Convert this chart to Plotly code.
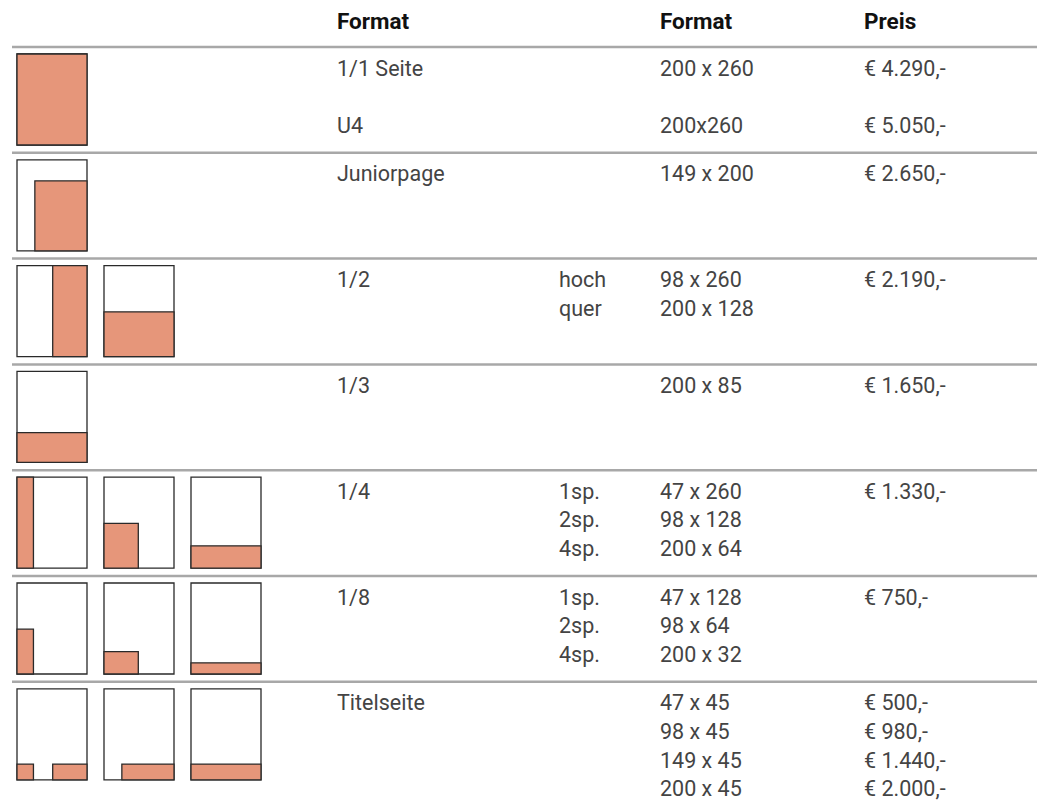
import plotly.graph_objects as go

# ---------------- data ----------------
headers = ["Format", "Format", "Preis"]

format_names = [["1/1 Seite", "", "U4"], ["Juniorpage"], ["1/2"], ["1/3"],
                ["1/4"], ["1/8"], ["Titelseite"]]
variants = [[], [], ["hoch", "quer"], [], ["1sp.", "2sp.", "4sp."],
            ["1sp.", "2sp.", "4sp."], []]
sizes = [["200 x 260", "", "200x260"], ["149 x 200"], ["98 x 260", "200 x 128"],
         ["200 x 85"], ["47 x 260", "98 x 128", "200 x 64"],
         ["47 x 128", "98 x 64", "200 x 32"],
         ["47 x 45", "98 x 45", "149 x 45", "200 x 45"]]
prices = [["€ 4.290,-", "", "€ 5.050,-"], ["€ 2.650,-"], ["€ 2.190,-"], ["€ 1.650,-"],
          ["€ 1.330,-"], ["€ 750,-"], ["€ 500,-", "€ 980,-", "€ 1.440,-", "€ 2.000,-"]]

# page size in mm
page_w, page_h = 200, 260
# thumbnails per row: list of pages, each a list of (width mm, height mm, anchor)
thumbs = [
    [[(200, 260, "bl")]],
    [[(149, 200, "br")]],
    [[(98, 260, "br")], [(200, 128, "bl")]],
    [[(200, 85, "bl")]],
    [[(47, 260, "bl")], [(98, 128, "bl")], [(200, 64, "bl")]],
    [[(47, 128, "bl")], [(98, 64, "bl")], [(200, 32, "bl")]],
    [[(47, 45, "bl"), (98, 45, "br")], [(149, 45, "br")], [(200, 45, "bl")]],
]

# ---------------- layout constants ----------------
W, H = 1037, 805
first_rule = 47
row_h = 105.8
thumb_w, thumb_h = 70, 91
thumb_x0, thumb_dx = 17, 87
thumb_top = 7
line_h = 28.7
text_off = 21
col_x = {"name": 335, "var": 557, "size": 658, "price": 862}
fill_col = "#E6967A"
edge_col = "#2a2a2a"
rule_col = "#a8a8a8"
txt_col = "#444444"
font_fam = "Roboto, 'Open Sans', sans-serif"

fig = go.Figure()
shapes = []
annotations = []

# header
for label, key in zip(headers, ["name", "size", "price"]):
    annotations.append(dict(x=col_x[key], y=21, text="<b>" + label + "</b>",
                            xanchor="left", yanchor="middle", showarrow=False,
                            font=dict(size=22.5, color="#111111", family=font_fam)))

n_rows = len(format_names)
for i in range(n_rows):
    sep = first_rule + i * row_h
    shapes.append(dict(type="line", x0=12, x1=W, y0=sep, y1=sep,
                       line=dict(color=rule_col, width=2.5), layer="below"))
    # texts
    for key, arr in [("name", format_names), ("var", variants),
                     ("size", sizes), ("price", prices)]:
        for j, t in enumerate(arr[i]):
            if not t:
                continue
            annotations.append(dict(x=col_x[key], y=sep + text_off + j * line_h,
                                    text=t, xanchor="left", yanchor="middle",
                                    showarrow=False,
                                    font=dict(size=21.5, color=txt_col, family=font_fam)))
    # thumbnails
    for k, page in enumerate(thumbs[i]):
        bx0 = thumb_x0 + k * thumb_dx
        by0 = sep + thumb_top
        bx1 = bx0 + thumb_w
        by1 = by0 + thumb_h
        shapes.append(dict(type="rect", x0=bx0, x1=bx1, y0=by0, y1=by1,
                           fillcolor="white", line=dict(color=edge_col, width=1.3)))
        sx = thumb_w / page_w
        sy = thumb_h / page_h
        for (wmm, hmm, anchor) in page:
            rw, rh = wmm * sx, hmm * sy
            if anchor == "bl":
                rx0 = bx0
            else:
                rx0 = bx1 - rw
            shapes.append(dict(type="rect", x0=rx0, x1=rx0 + rw, y0=by1 - rh, y1=by1,
                               fillcolor=fill_col, line=dict(color=edge_col, width=1.3)))

fig.update_layout(
    width=W, height=H, margin=dict(l=0, r=0, t=0, b=0),
    paper_bgcolor="white", plot_bgcolor="white",
    xaxis=dict(range=[0, W], visible=False, fixedrange=True),
    yaxis=dict(range=[H, 0], visible=False, fixedrange=True),
    shapes=shapes, annotations=annotations, showlegend=False,
)
fig.write_html("out.html", post_script="document.body.style.margin='0';",
               config={"displayModeBar": False})
